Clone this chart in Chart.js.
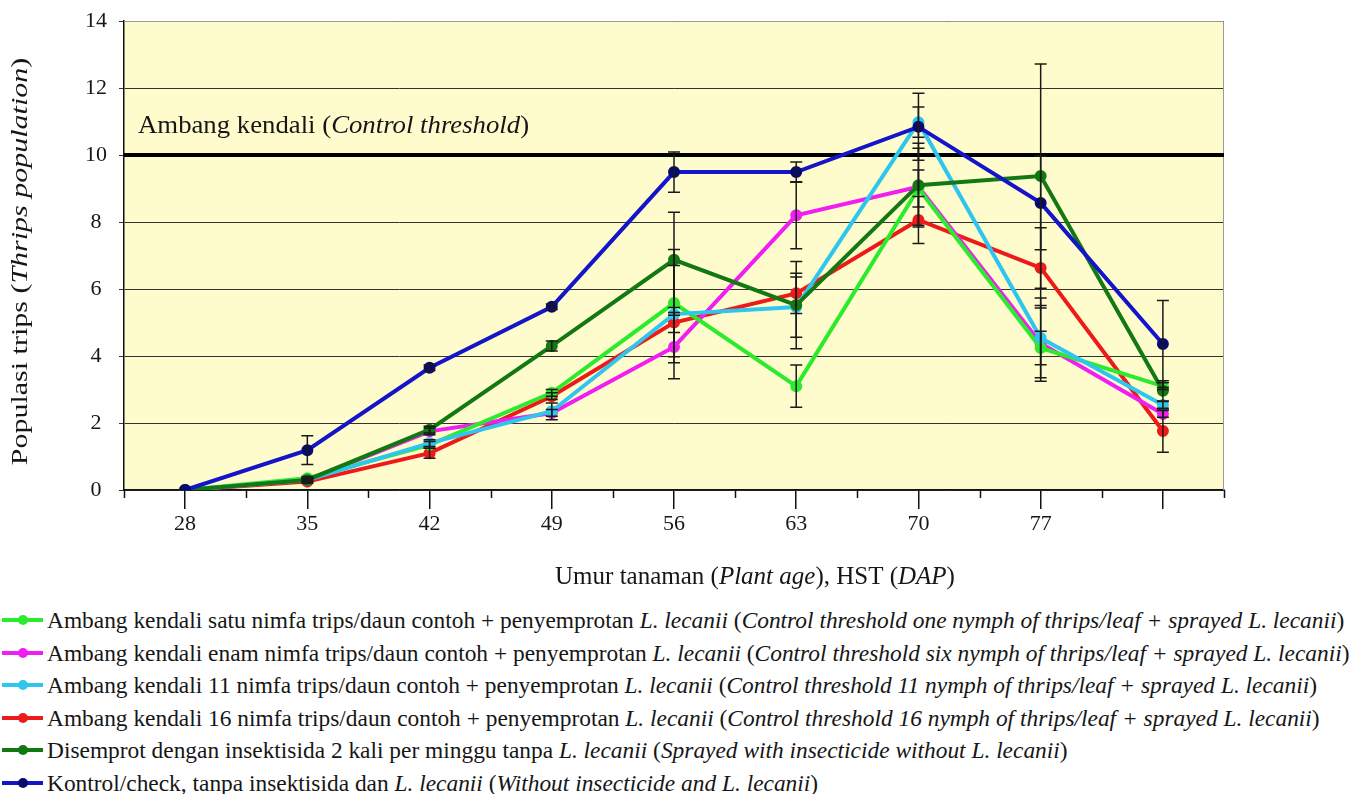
<!DOCTYPE html>
<html><head><meta charset="utf-8">
<script src="https://cdn.jsdelivr.net/npm/chart.js@4.4.1/dist/chart.umd.min.js"></script>
<style>
html,body{margin:0;padding:0;background:#fff;}
#wrap{position:relative;width:1362px;height:794px;overflow:hidden;}
#chartBox{position:absolute;left:0;top:0;width:1362px;height:600px;}
#legend{position:absolute;left:0;top:604px;width:1362px;font-family:'Liberation Serif','Times New Roman',serif;font-size:23.4px;color:#161616;}
.item{position:absolute;left:0;height:32px;line-height:32px;white-space:nowrap;}
.sw{position:absolute;left:2px;top:14px;width:41px;height:4px;}
.dot{position:absolute;left:16px;top:-3px;width:10px;height:10px;border-radius:50%;}
.txt{position:absolute;left:47px;top:0;}
</style></head>
<body><div id="wrap"><div id="chartBox"><canvas id="c"></canvas></div><div id="legend"></div></div>
<script>
// ---- data ----
const ageLabels = ['28','35','42','49','56','63','70','77',''];
const yTicks = {min:0, max:14, step:2};
const thresholdValue = 10;

const satuValues        = [0, 0.35, 1.35, 2.9, 5.58, 3.1, 9.0, 4.24, 3.1];
const enamValues        = [0, 0.3, 1.75, 2.3, 4.27, 8.2, 9.05, 4.38, 2.27];
const sebelasValues     = [0, 0.3, 1.4, 2.35, 5.25, 5.46, 10.98, 4.54, 2.54];
const enambelasValues   = [0, 0.25, 1.1, 2.8, 5.0, 5.87, 8.06, 6.63, 1.76];
const insektisidaValues = [0, 0.3, 1.8, 4.3, 6.87, 5.52, 9.1, 9.37, 2.96];
const kontrolValues     = [0, 1.19, 3.65, 5.47, 9.49, 9.49, 10.84, 8.57, 4.36];

const satuErr        = [0, 0.05, 0.1, 0.1, 1.6, 0.63, 0.55, 0.5, 0.1];
const enamErr        = [0, 0.05, 0.1, 0.1, 0.95, 1.0, 1.15, 1.13, 0.1];
const sebelasErr     = [0, 0.05, 0.1, 0.25, 1.45, 0.9, 0.45, 1.19, 0.1];
const enambelasErr   = [0, 0.05, 0.15, 0.1, 0.3, 0.6, 0.7, 1.2, 0.63];
const insektisidaErr = [0, 0.05, 0.1, 0.15, 1.42, 1.3, 1.25, 3.35, 0.3];
const kontrolErr     = [0, 0.43, 0.08, 0.08, 0.6, 0.3, 1.0, 1.4, 1.3];

const seriesNames = [
 'Ambang kendali satu nimfa trips/daun contoh + penyemprotan <i>L. lecanii</i> (<i>Control threshold one nymph of thrips/leaf + sprayed L. lecanii</i>)',
 'Ambang kendali enam nimfa trips/daun contoh + penyemprotan <i>L. lecanii</i> (<i>Control threshold six nymph of thrips/leaf + sprayed L. lecanii</i>)',
 'Ambang kendali 11 nimfa trips/daun contoh + penyemprotan <i>L. lecanii</i> (<i>Control threshold 11 nymph of thrips/leaf + sprayed L. lecanii</i>)',
 'Ambang kendali 16 nimfa trips/daun contoh + penyemprotan <i>L. lecanii</i> (<i>Control threshold 16 nymph of thrips/leaf + sprayed L. lecanii</i>)',
 'Disemprot dengan insektisida 2 kali per minggu tanpa <i>L. lecanii</i> (<i>Sprayed with insecticide without L. lecanii</i>)',
 'Kontrol/check, tanpa insektisida dan <i>L. lecanii</i> (<i>Without insecticide and L. lecanii</i>)'
];
const thresholdText = [['Ambang kendali (',false],['Control threshold',true],[')',false]];
const yTitle = [['Populasi trips (',false],['Thrips population',true],[')',false]];
const xTitle = [['Umur tanaman (',false],['Plant age',true],['), HST (',false],['DAP',true],[')',false]];

const FONT = "'Liberation Serif','Times New Roman',serif";

function mk(i, values, err, color, ptColor, order){
  return {label: seriesNames[i], data: values, err: err, borderColor: color, backgroundColor: ptColor,
    pointBackgroundColor: ptColor, pointBorderColor: ptColor, borderWidth: 4, pointRadius: 4,
    pointHoverRadius: 4, tension: 0, order: order};
}
const datasets = [
  mk(0, satuValues, satuErr, '#2CEB2C', '#2CEB2C', 3),
  mk(1, enamValues, enamErr, '#F01EF0', '#F01EF0', 4),
  mk(2, sebelasValues, sebelasErr, '#2EC6EE', '#2EC6EE', 2),
  mk(3, enambelasValues, enambelasErr, '#EE1A1A', '#EE1A1A', 5),
  mk(4, insektisidaValues, insektisidaErr, '#127812', '#127812', 1),
  mk(5, kontrolValues, kontrolErr, '#1414C8', '#0A0A6E', 0)
];

function drawRich(ctx, parts, x, y, size, align, rot, sx){
  ctx.save();
  ctx.translate(x, y);
  if (rot) ctx.rotate(-Math.PI/2);
  ctx.scale(sx || 1, 1);
  let total = 0;
  const ws = parts.map(p => { ctx.font = (p[1]?'italic ':'') + size + 'px ' + FONT; const w = ctx.measureText(p[0]).width; total += w; return w; });
  let cx = align === 'center' ? -total/2 : 0;
  ctx.textBaseline = 'middle'; ctx.textAlign = 'left'; ctx.fillStyle = '#161616';
  parts.forEach((p, k) => { ctx.font = (p[1]?'italic ':'') + size + 'px ' + FONT; ctx.fillText(p[0], cx, 0); cx += ws[k]; });
  ctx.restore();
}

const decor = {
  id: 'decor',
  beforeDraw(chart){
    const {ctx, chartArea: a} = chart;
    ctx.save(); ctx.fillStyle = '#FEFCCD'; ctx.fillRect(a.left, a.top, a.right - a.left, a.bottom - a.top); ctx.restore();
  },
  beforeDatasetsDraw(chart){
    const {ctx, chartArea: a, scales: {x, y}} = chart;
    ctx.save();
    ctx.strokeStyle = '#9a9a9a'; ctx.lineWidth = 1;
    ctx.beginPath(); ctx.moveTo(a.left, a.top + 0.5); ctx.lineTo(a.right - 0.5, a.top + 0.5); ctx.lineTo(a.right - 0.5, a.bottom); ctx.stroke();
    ctx.strokeStyle = '#111'; ctx.lineWidth = 1.5;
    for (let i = 0; i <= ageLabels.length; i++) {
      const px = Math.round((x.getPixelForValue(i - 0.5))) + 0.5;
      ctx.beginPath(); ctx.moveTo(px, a.bottom); ctx.lineTo(px, a.bottom + 8); ctx.stroke();
    }
    const ty = y.getPixelForValue(thresholdValue);
    ctx.strokeStyle = '#000'; ctx.lineWidth = 4;
    ctx.beginPath(); ctx.moveTo(a.left, ty); ctx.lineTo(a.right, ty); ctx.stroke();
    ctx.restore();
    drawRich(ctx, thresholdText, a.left + 14, ty - 29, 25, 'left', false, 1.07);
  },
  afterDatasetsDraw(chart){
    const {ctx, scales: {x, y}} = chart;
    ctx.save(); ctx.strokeStyle = '#1a1a1a'; ctx.lineWidth = 1.5;
    chart.data.datasets.forEach(ds => {
      ds.data.forEach((v, i) => {
        const e = ds.err[i]; if (!e) return;
        const px = x.getPixelForValue(i);
        const y1 = y.getPixelForValue(v + e), y2 = y.getPixelForValue(v - e);
        ctx.beginPath();
        ctx.moveTo(px, y1); ctx.lineTo(px, y2);
        ctx.moveTo(px - 6, y1); ctx.lineTo(px + 6, y1);
        ctx.moveTo(px - 6, y2); ctx.lineTo(px + 6, y2);
        ctx.stroke();
      });
    });
    ctx.restore();
  },
  afterDraw(chart){
    const {ctx, chartArea: a} = chart;
    drawRich(ctx, yTitle, 21, (a.top + a.bottom)/2 + 6, 24, 'center', true, 1.25);
    drawRich(ctx, xTitle, 755, 577, 25, 'center', false, 1);
  }
};

const chart = new Chart(document.getElementById('c'), {
  type: 'line',
  data: {labels: ageLabels, datasets},
  options: {
    responsive: true, maintainAspectRatio: false, animation: false,
    layout: {padding: {top: 21, right: 138, left: 0, bottom: 0}},
    plugins: {legend: {display: false}, tooltip: {enabled: false}},
    scales: {
      x: {
        type: 'category', offset: true,
        grid: {display: true, drawOnChartArea: false, drawTicks: true, tickLength: 19, color: '#111', lineWidth: 1.5, offset: false},
        border: {display: true, color: '#111', width: 1.5},
        ticks: {font: {family: FONT, size: 22}, color: '#161616', padding: 2, maxRotation: 0, autoSkip: false},
        afterFit(s){ s.height = 110; }
      },
      y: {
        min: yTicks.min, max: yTicks.max,
        grid: {color: '#333', lineWidth: 1, tickLength: 5},
        border: {display: true, color: '#111', width: 1.5},
        ticks: {stepSize: yTicks.step, font: {family: FONT, size: 22}, color: '#161616', padding: 12, crossAlign: 'center'},
        afterFit(s){ s.width = 124; s.paddingTop = 0; s.paddingBottom = 0; }
      }
    }
  },
  plugins: [decor]
});

const leg = document.getElementById('legend');
datasets.forEach((ds, i) => {
  const it = document.createElement('div'); it.className = 'item'; it.style.top = (i * 32.6) + 'px';
  it.innerHTML = '<div class="sw" style="background:' + ds.borderColor + '"><div class="dot" style="background:' + ds.pointBackgroundColor + '"></div></div><div class="txt">' + ds.label + '</div>';
  leg.appendChild(it);
});
</script></body></html>
